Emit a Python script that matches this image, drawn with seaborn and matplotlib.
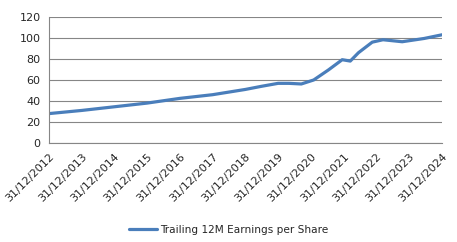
import matplotlib
matplotlib.use("Agg")
import matplotlib.pyplot as plt
import seaborn as sns
import pandas as pd

dates = ["2012-12-31", "2013-12-31", "2014-12-31", "2015-12-31", "2016-12-31",
         "2017-12-31", "2018-12-31", "2019-06-30", "2019-12-31", "2020-04-30",
         "2020-09-15", "2021-01-31", "2021-07-15", "2021-12-15", "2022-03-15",
         "2022-06-15", "2022-11-15", "2023-03-15", "2023-10-15", "2024-06-15",
         "2024-12-31"]
eps = [28, 31, 34.5, 38, 42.5, 46, 51, 54, 56.8, 56.8, 56.2, 60, 69.6, 79.3,
       78, 86, 96, 98.3, 96.4, 99.5, 103]
tick_dates = ["2012-12-31", "2013-12-31", "2014-12-31", "2015-12-31", "2016-12-31",
              "2017-12-31", "2018-12-31", "2019-12-31", "2020-12-31", "2021-12-31",
              "2022-12-31", "2023-12-31", "2024-12-31"]
tick_labels = [pd.Timestamp(d).strftime("%d/%m/%Y") for d in tick_dates]
yticks = [0, 20, 40, 60, 80, 100, 120]
series_name = "Trailing 12M Earnings per Share"

df = pd.DataFrame({"date": pd.to_datetime(dates), "value": eps, "series": series_name})

sns.set_style("white")
plt.rcParams["font.family"] = ["DejaVu Sans"]

fig = plt.figure(figsize=(4.57, 2.42), dpi=100)
ax = fig.add_axes([0.107, 0.409, 0.86, 0.521])

sns.lineplot(data=df, x="date", y="value", hue="series", palette=["#4A7EBB"],
             linewidth=2.3, ax=ax, legend=True,
             solid_joinstyle="round", solid_capstyle="round")

ax.set_xlim(pd.Timestamp(tick_dates[0]), pd.Timestamp(tick_dates[-1]))
ax.set_ylim(0, 120)
ax.set_yticks(yticks)
ax.set_xticks(pd.to_datetime(tick_dates))
ax.set_xticklabels(tick_labels, rotation=45, ha="right", rotation_mode="anchor")
ax.tick_params(axis="x", length=4, width=0.8, color="#868686", labelsize=8, pad=2)
ax.tick_params(axis="y", length=4, width=0.8, color="#868686", labelsize=8, pad=2)
ax.set_xlabel("")
ax.set_ylabel("")
ax.grid(axis="y", color="#868686", linewidth=0.8)
ax.set_axisbelow(True)
for s in ["top", "right"]:
    ax.spines[s].set_visible(False)
for s in ["left", "bottom"]:
    ax.spines[s].set_color("#868686")
    ax.spines[s].set_linewidth(0.8)

h, l = ax.get_legend_handles_labels()
ax.legend(h, l, loc="center", bbox_to_anchor=(0.5, 0.05), bbox_transform=fig.transFigure,
          frameon=False, fontsize=7.6, handlelength=2.6, handletextpad=0.3)

fig.savefig("out.png", dpi=100)
